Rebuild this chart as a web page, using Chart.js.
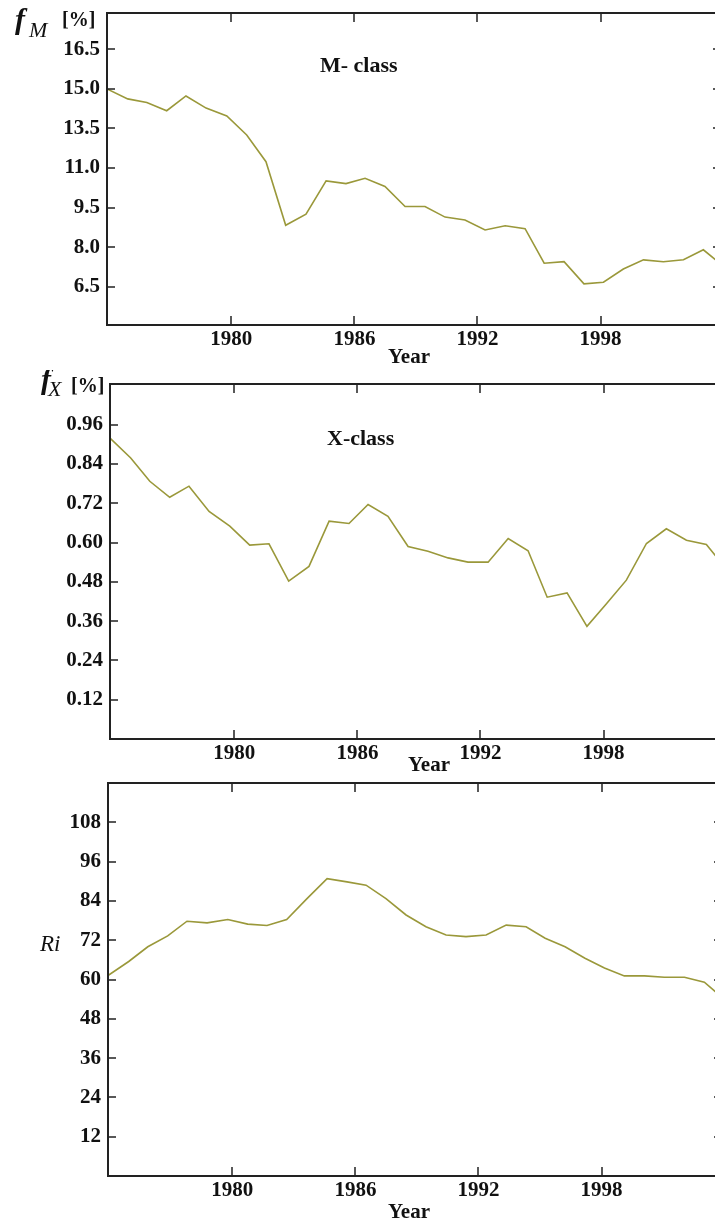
<!DOCTYPE html>
<html>
<head>
<meta charset="utf-8">
<script src="https://cdn.jsdelivr.net/npm/chart.js@4.4.1/dist/chart.umd.min.js"></script>
<style>
  html, body { margin: 0; padding: 0; background: #fff; overflow: hidden; width: 715px; height: 1220px; }
  .panel { position: absolute; left: 0; }
</style>
</head>
<body>
<canvas id="chartM" class="panel" style="top:0px" width="740" height="370"></canvas>
<canvas id="chartX" class="panel" style="top:370px" width="740" height="405"></canvas>
<canvas id="chartR" class="panel" style="top:770px" width="740" height="450"></canvas>
<script>
// Data (one point per sample)
const years = [1973.94, 1974.95, 1975.88, 1976.85, 1977.79, 1978.77, 1979.78, 1980.75,
  1981.69, 1982.65, 1983.64, 1984.62, 1985.59, 1986.52, 1987.49, 1988.47, 1989.44,
  1990.42, 1991.39, 1992.37, 1993.35, 1994.32, 1995.25, 1996.22, 1997.19, 1998.14,
  1999.11, 2000.09, 2001.06, 2002.04, 2003.01, 2003.97];

// M-class share (in axis position units, labels below are as printed)
const fM = [15.0, 14.62, 14.48, 14.17, 14.73, 14.27, 13.97, 13.25, 12.24, 9.83, 10.25,
  11.51, 11.41, 11.61, 11.30, 10.54, 10.54, 10.14, 10.03, 9.65, 9.81, 9.70, 8.39, 8.45,
  7.61, 7.67, 8.17, 8.52, 8.45, 8.52, 8.90, 8.29];

// X-class share
const fX = [0.919, 0.858, 0.787, 0.738, 0.772, 0.695, 0.650, 0.592, 0.596, 0.482, 0.527,
  0.665, 0.658, 0.716, 0.680, 0.588, 0.573, 0.553, 0.540, 0.540, 0.612, 0.575, 0.433,
  0.446, 0.344, 0.413, 0.485, 0.597, 0.642, 0.607, 0.594, 0.52];

// Ri
const ri = [61.2, 65.5, 70.0, 73.3, 77.8, 77.3, 78.3, 76.9, 76.5, 78.3, 84.7, 90.8, 89.8,
  88.8, 84.7, 79.7, 76.1, 73.6, 73.1, 73.6, 76.6, 76.1, 72.6, 70.0, 66.5, 63.5, 61.1,
  61.1, 60.7, 60.7, 59.2, 54.0];

// Ticks
const yearTicks = [1980, 1986, 1992, 1998];
const fMTicks = [7.5, 9, 10.5, 12, 13.5, 15, 16.5];
const fMTickLabels = ['6.5', '8.0', '9.5', '11.0', '13.5', '15.0', '16.5'];
const fXTicks = [0.12, 0.24, 0.36, 0.48, 0.60, 0.72, 0.84, 0.96];
const fXTickLabels = ['0.12', '0.24', '0.36', '0.48', '0.60', '0.72', '0.84', '0.96'];
const riTicks = [12, 24, 36, 48, 60, 72, 84, 96, 108];
const riTickLabels = ['12', '24', '36', '48', '60', '72', '84', '96', '108'];

const lineColor = '#9a983a';
const inkColor = '#111';
const tickFont = { family: '"Liberation Serif"', size: 21, weight: 'bold' };

// Frame with inward tick marks on all four sides, plus free text
const framePlugin = {
  id: 'frame',
  afterDatasetsDraw(chart, args, opts) {
    const { ctx, chartArea: a, scales } = chart;
    ctx.save();
    ctx.strokeStyle = '#222';
    ctx.lineWidth = 2;
    ctx.strokeRect(a.left, a.top, a.right - a.left, a.bottom - a.top);
    ctx.lineWidth = 1.5;
    ctx.beginPath();
    scales.x.ticks.forEach(t => {
      const px = Math.round(scales.x.getPixelForValue(t.value));
      ctx.moveTo(px, a.bottom); ctx.lineTo(px, a.bottom - 9);
      ctx.moveTo(px, a.top); ctx.lineTo(px, a.top + 9);
    });
    scales.y.ticks.forEach(t => {
      const py = Math.round(scales.y.getPixelForValue(t.value));
      ctx.moveTo(a.left, py); ctx.lineTo(a.left + 8, py);
      ctx.moveTo(a.right, py); ctx.lineTo(a.right - 8, py);
    });
    ctx.stroke();
    (opts.texts || []).forEach(tx => {
      ctx.font = tx.font;
      ctx.fillStyle = inkColor;
      ctx.textAlign = tx.align || 'left';
      ctx.textBaseline = tx.baseline || 'alphabetic';
      ctx.fillText(tx.text, tx.x, tx.y);
    });
    ctx.restore();
  }
};

function noPad(s) {
  s.paddingTop = 0; s.paddingBottom = 0; s.paddingLeft = 0; s.paddingRight = 0;
}

function makePanel(id, values, yMin, yMax, yTicks, yLabels, box, texts) {
  return new Chart(document.getElementById(id), {
    type: 'line',
    data: {
      datasets: [{
        data: years.map((x, i) => ({ x: x, y: values[i] })),
        borderColor: lineColor,
        borderWidth: 1.6,
        pointRadius: 0,
        tension: 0,
        fill: false
      }]
    },
    options: {
      responsive: false,
      animation: false,
      layout: { padding: { top: box.top, right: box.right, left: 0, bottom: 0 } },
      plugins: {
        legend: { display: false },
        tooltip: { enabled: false },
        frame: { texts: texts }
      },
      scales: {
        x: {
          type: 'linear',
          min: 1973.94,
          max: 2003.87,
          afterBuildTicks: s => { s.ticks = yearTicks.map(v => ({ value: v })); },
          afterFit: s => { s.height = box.xh; noPad(s); },
          grid: { display: false, drawTicks: false },
          border: { display: false },
          ticks: { font: tickFont, color: inkColor, padding: 2, maxRotation: 0, autoSkip: false,
                   callback: v => String(v) }
        },
        y: {
          type: 'linear',
          min: yMin,
          max: yMax,
          afterBuildTicks: s => { s.ticks = yTicks.map(v => ({ value: v })); },
          afterFit: s => { s.width = box.left; noPad(s); },
          grid: { display: false, drawTicks: false },
          border: { display: false },
          ticks: { font: tickFont, color: inkColor, padding: 7,
                   callback: (v, i) => yLabels[i] }
        }
      }
    },
    plugins: [framePlugin]
  });
}

const titleFont = 'bold 21px "Liberation Serif"';
const classFont = 'bold 22px "Liberation Serif"';

makePanel('chartM', fM, 6.05, 17.875, fMTicks, fMTickLabels,
  { top: 13, right: 19, left: 107, xh: 45 },
  [
    { text: 'f', font: 'bold italic 30px "Liberation Serif"', x: 15, y: 29 },
    { text: 'M', font: 'italic 22px "Liberation Serif"', x: 29, y: 37 },
    { text: '[%]', font: 'bold 20px "Liberation Serif"', x: 62, y: 26 },
    { text: 'M- class', font: classFont, x: 320, y: 66, baseline: 'middle' },
    { text: 'Year', font: titleFont, x: 409, y: 358, align: 'center', baseline: 'middle' }
  ]);

makePanel('chartX', fX, 0, 1.084, fXTicks, fXTickLabels,
  { top: 14, right: 16, left: 110, xh: 36 },
  [
    { text: 'f', font: 'bold italic 30px "Liberation Serif"', x: 41, y: 19 },
    { text: 'X', font: 'italic 22px "Liberation Serif"', x: 48, y: 26 },
    { text: '[%]', font: 'bold 20px "Liberation Serif"', x: 71, y: 22 },
    { text: 'X-class', font: classFont, x: 327, y: 69, baseline: 'middle' },
    { text: 'Year', font: titleFont, x: 429, y: 396, align: 'center', baseline: 'middle' }
  ]);

makePanel('chartR', ri, 0, 120, riTicks, riTickLabels,
  { top: 13, right: 18, left: 108, xh: 44 },
  [
    { text: 'Ri', font: 'italic 23px "Liberation Serif"', x: 40, y: 181 },
    { text: 'Year', font: titleFont, x: 409, y: 443, align: 'center', baseline: 'middle' }
  ]);
</script>
</body>
</html>
